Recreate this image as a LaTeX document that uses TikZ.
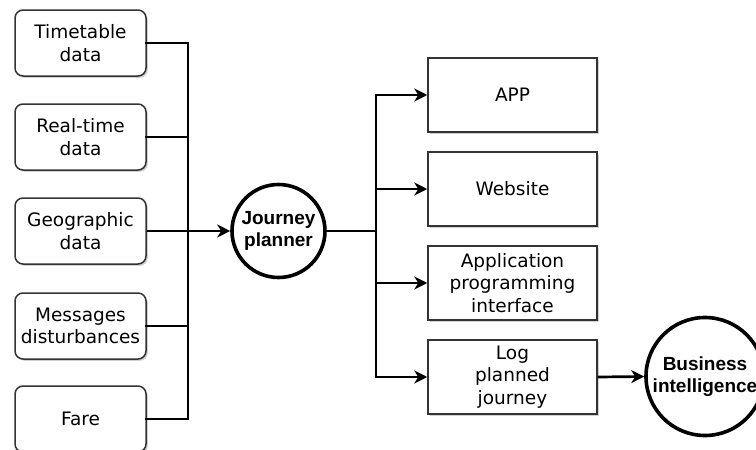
\documentclass[tikz,border=0pt]{standalone}
\usepackage{fontspec}
\setmainfont{DejaVu Sans}
\newfontfamily\hubfont{Liberation Sans}
\usetikzlibrary{shadows,arrows.meta}

\tikzset{
  boxtext/.style={align=center, font=\fontsize{18.5}{22.5}\selectfont, inner sep=0pt},
  boxshadow/.style={drop shadow={shadow xshift=1.8pt, shadow yshift=-1.8pt, opacity=0.3, fill=black!60}},
  srcbox/.style={boxtext, boxshadow, draw=black!80, line width=1.5pt, fill=white,
    rounded corners=8pt, minimum width=131pt, minimum height=66pt},
  outbox/.style={boxtext, boxshadow, draw=black!80, line width=1.5pt, fill=white,
    minimum width=169pt, minimum height=74pt},
  hub/.style={circle, draw=black, line width=3.6pt, fill=white, align=center, inner sep=0pt,
    font=\hubfont\bfseries\fontsize{19}{22}\selectfont},
  wire/.style={draw=black, line width=2.7pt, line cap=rect},
  arr/.style={draw=black, line width=2.7pt, -{Stealth[length=13pt, width=13pt, inset=4pt]}}
}

\begin{document}
\begin{tikzpicture}[x=1pt, y=-1pt]
\useasboundingbox (0,0) rectangle (756,450);
\clip (0,0) rectangle (756,450);

% data sources
\node[srcbox] (s1) at (80.5,43)  {Timetable\\data};
\node[srcbox] (s2) at (80.5,137) {Real-time\\data};
\node[srcbox] (s3) at (80.5,231) {Geographic\\data};
\node[srcbox] (s4) at (80.5,326) {Messages\\disturbances};
\node[srcbox] (s5) at (80.5,419) {Fare};

% central planner
\node[hub, minimum size=93pt] (jp) at (278.5,231) {Journey\\planner};

% outputs
\node[outbox] (o1) at (512.5,95)  {APP};
\node[outbox] (o2) at (512.5,189) {Website};
\node[outbox] (o3) at (512.5,283) {Application\\programming\\interface};
\node[outbox] (o4) at (512.5,377) {Log\\planned\\journey};

\node[hub, minimum size=118pt] (bi) at (705,376.5) {Business\\intelligence};

% collecting bus on the left
\coordinate (lbus) at (188,0);
\draw[wire] (s1.east) -- (s1.east -| lbus) -- (s5.east -| lbus) -- (s5.east);
\draw[wire] (s2.east) -- (s2.east -| lbus);
\draw[wire] (s4.east) -- (s4.east -| lbus);
\draw[arr] (s3.east) -- (jp.west);

% distribution bus on the right
\coordinate (rbus) at (376,0);
\draw[wire] (jp.east) -- (jp.east -| rbus);
\draw[wire] (o1.west -| rbus) -- (o4.west -| rbus);
\draw[arr] (o1.west -| rbus) -- (o1.west);
\draw[arr] (o2.west -| rbus) -- (o2.west);
\draw[arr] (o3.west -| rbus) -- (o3.west);
\draw[arr] (o4.west -| rbus) -- (o4.west);

\draw[arr] (o4.east) -- (bi.west);
\end{tikzpicture}
\end{document}
